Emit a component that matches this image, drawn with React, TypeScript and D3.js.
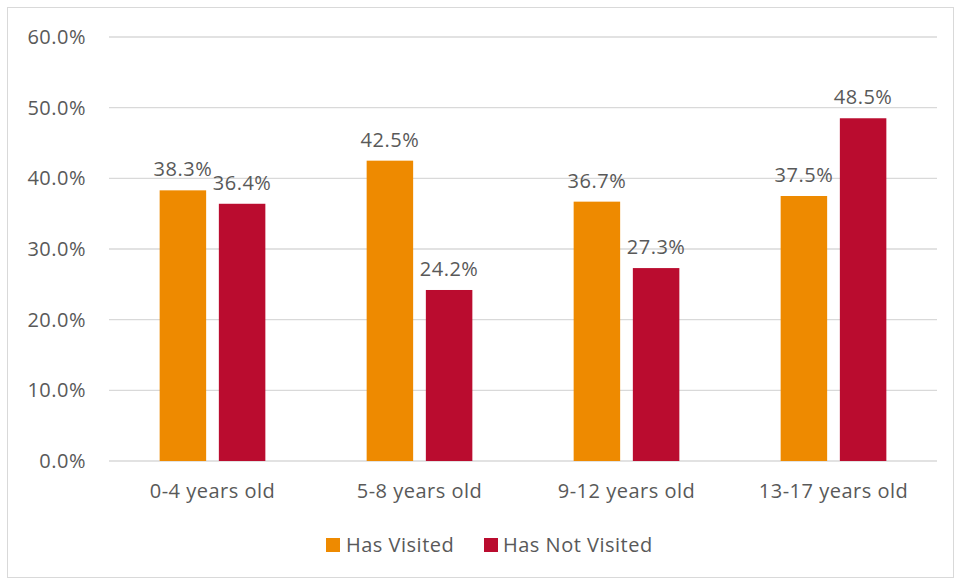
import React from "react";
import * as d3 from "d3";

const categories = ["0-4 years old", "5-8 years old", "9-12 years old", "13-17 years old"];
const seriesNames = ["Has Visited", "Has Not Visited"];
const hasVisited = [38.3, 42.5, 36.7, 37.5];
const hasNotVisited = [36.4, 24.2, 27.3, 48.5];
const yTicks = [0, 10, 20, 30, 40, 50, 60];
const colors = ["#EE8A00", "#BA0C2F"];

const W = 954;
const H = 579;
const FONT = "'Open Sans', Lato, sans-serif";
const TEXT = "#595959";
const FS = 20;
const LS = 0.5;

export default function App() {
  const x0 = d3.scaleBand<string>().domain(categories).range([109, 937]).paddingInner(0).paddingOuter(0);
  const y = d3.scaleLinear().domain([0, 60]).range([461, 37]);
  const barW = 46.5;
  const gap = 12.7;
  const series = [hasVisited, hasNotVisited];

  return (
    <svg width={W} height={H} style={{ position: "absolute", left: 0, top: 0, background: "#fff" }} fontFamily={FONT} letterSpacing={LS}>
      <rect x={7.5} y={7.5} width={W - 8} height={H - 9} fill="#fff" stroke="#D9D9D9" strokeWidth={1} />
      {yTicks.map((t) => (
        <g key={t}>
          <line x1={109} x2={937} y1={y(t)} y2={y(t)} stroke="#D9D9D9" strokeWidth={1.3} />
          <text x={86} y={y(t)} dy="0.35em" textAnchor="end" fontSize={FS} fill={TEXT}>
            {t.toFixed(1) + "%"}
          </text>
        </g>
      ))}
      {categories.map((c, i) => {
        const cx = (x0(c) as number) + x0.bandwidth() / 2;
        return (
          <g key={c}>
            {series.map((s, j) => {
              const bx = j === 0 ? cx - gap / 2 - barW : cx + gap / 2;
              const v = s[i];
              return (
                <g key={j}>
                  <rect x={bx} y={y(v)} width={barW} height={y(0) - y(v)} fill={colors[j]} />
                  <text x={bx + barW / 2} y={y(v) - 14} textAnchor="middle" fontSize={FS} fill={TEXT}>
                    {v.toFixed(1) + "%"}
                  </text>
                </g>
              );
            })}
            <text x={cx} y={498} textAnchor="middle" fontSize={FS} fill={TEXT}>
              {c}
            </text>
          </g>
        );
      })}
      <g>
        <rect x={326} y={538} width={14} height={14} fill={colors[0]} />
        <text x={346} y={552} fontSize={FS} fill={TEXT}>{seriesNames[0]}</text>
        <rect x={484} y={538} width={14} height={14} fill={colors[1]} />
        <text x={503} y={552} fontSize={FS} fill={TEXT}>{seriesNames[1]}</text>
      </g>
    </svg>
  );
}
